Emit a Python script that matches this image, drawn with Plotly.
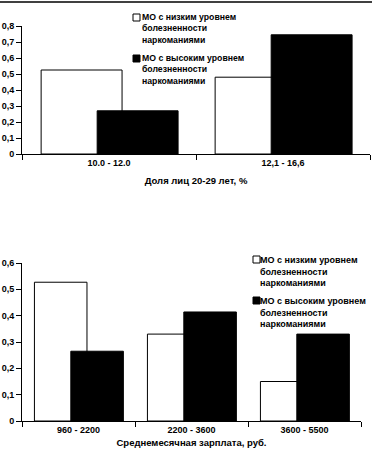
import plotly.graph_objects as go

W, H = 372, 453

# Top chart data
cats1 = ["10.0 - 12.0", "12,1 - 16,6"]
low1 = [0.525, 0.48]
high1 = [0.27, 0.745]

# Bottom chart data
cats2 = ["960 - 2200", "2200 - 3600", "3600 - 5500"]
low2 = [0.527, 0.33, 0.15]
high2 = [0.265, 0.414, 0.33]

name_low = "МО с низким уровнем<br>болезненности<br>наркоманиями"
name_high = "МО с высоким уровнем<br>болезненности<br>наркоманиями"

FONT = "Liberation Sans, Arial, sans-serif"
BW = 0.465
OFF_LOW = -0.39
OFF_HIGH = -0.068

fig = go.Figure()
fig.add_trace(go.Bar(x=cats1, y=low1, width=BW, offset=OFF_LOW,
                     marker=dict(color="white", line=dict(color="black", width=1)),
                     xaxis="x", yaxis="y", showlegend=False, name=name_low))
fig.add_trace(go.Bar(x=cats1, y=high1, width=BW, offset=OFF_HIGH,
                     marker=dict(color="black", line=dict(color="black", width=1)),
                     xaxis="x", yaxis="y", showlegend=False, name=name_high))
fig.add_trace(go.Bar(x=cats2, y=low2, width=BW, offset=OFF_LOW,
                     marker=dict(color="white", line=dict(color="black", width=1)),
                     xaxis="x2", yaxis="y2", showlegend=False, name=name_low))
fig.add_trace(go.Bar(x=cats2, y=high2, width=BW, offset=OFF_HIGH,
                     marker=dict(color="black", line=dict(color="black", width=1)),
                     xaxis="x2", yaxis="y2", showlegend=False, name=name_high))

def px_x(p):
    return p / W

def px_y(p):
    return (H - p) / H

tickfont = dict(family=FONT, size=9, color="black", weight="bold")
axis_common = dict(showgrid=False, zeroline=False, showline=True, linecolor="black",
                   linewidth=1, ticks="outside", ticklen=5, tickcolor="black",
                   tickwidth=1, tickfont=tickfont, automargin=False)

fig.update_layout(
    width=W, height=H,
    margin=dict(l=0, r=0, t=0, b=0, autoexpand=False),
    paper_bgcolor="white", plot_bgcolor="white",
    barmode="overlay",
    separators=",.",
    font=dict(family=FONT, color="black"),
    xaxis=dict(domain=[px_x(22), px_x(370)], anchor="y", type="category",
               tickson="boundaries", range=[-0.5, 1.5], **axis_common,
               title=dict(text="Доля лиц 20-29 лет, %", standoff=10,
                          font=dict(family=FONT, size=9.5, color="black", weight="bold"))),
    yaxis=dict(domain=[px_y(154), px_y(26)], anchor="x", range=[0, 0.8],
               tickvals=[0, 0.1, 0.2, 0.3, 0.4, 0.5, 0.6, 0.7, 0.8],
               ticktext=["0", "0,1", "0,2", "0,3", "0,4", "0,5", "0,6", "0,7", "0,8"],
               **axis_common),
    xaxis2=dict(domain=[px_x(22), px_x(361)], anchor="y2", type="category",
                tickson="boundaries", range=[-0.5, 2.5], **axis_common,
                title=dict(text="Среднемесячная зарплата, руб.", standoff=5,
                           font=dict(family=FONT, size=9.5, color="black", weight="bold"))),
    yaxis2=dict(domain=[px_y(421), px_y(263)], anchor="x2", range=[0, 0.6],
                tickvals=[0, 0.1, 0.2, 0.3, 0.4, 0.5, 0.6],
                ticktext=["0", "0,1", "0,2", "0,3", "0,4", "0,5", "0,6"],
                **axis_common),
)

# top rule line
fig.add_shape(type="line", xref="paper", yref="paper", x0=0, x1=1,
              y0=px_y(2), y1=px_y(2), line=dict(color="black", width=1.5))

def legend_item(sq_x, sq_y, text_x, text_top, text, fill, size):
    fig.add_shape(type="rect", xref="paper", yref="paper",
                  x0=px_x(sq_x), x1=px_x(sq_x + 7), y0=px_y(sq_y + 7), y1=px_y(sq_y),
                  fillcolor=fill, line=dict(color="black", width=1))
    fig.add_annotation(xref="paper", yref="paper", x=px_x(text_x), y=px_y(text_top),
                       xanchor="left", yanchor="top", align="left", showarrow=False,
                       text=text, borderpad=0,
                       font=dict(family=FONT, size=size, color="black", weight="bold"))

legend_item(133, 14, 141, 11, name_low, "white", 8.7)
legend_item(133, 55, 141, 52, name_high, "black", 8.7)
legend_item(253, 256, 259, 254, name_low, "white", 9.0)
legend_item(253, 297, 259, 295, name_high, "black", 9.0)

fig.write_html("out.html", config={"displayModeBar": False},
               post_script="document.body.style.margin='0px';")
